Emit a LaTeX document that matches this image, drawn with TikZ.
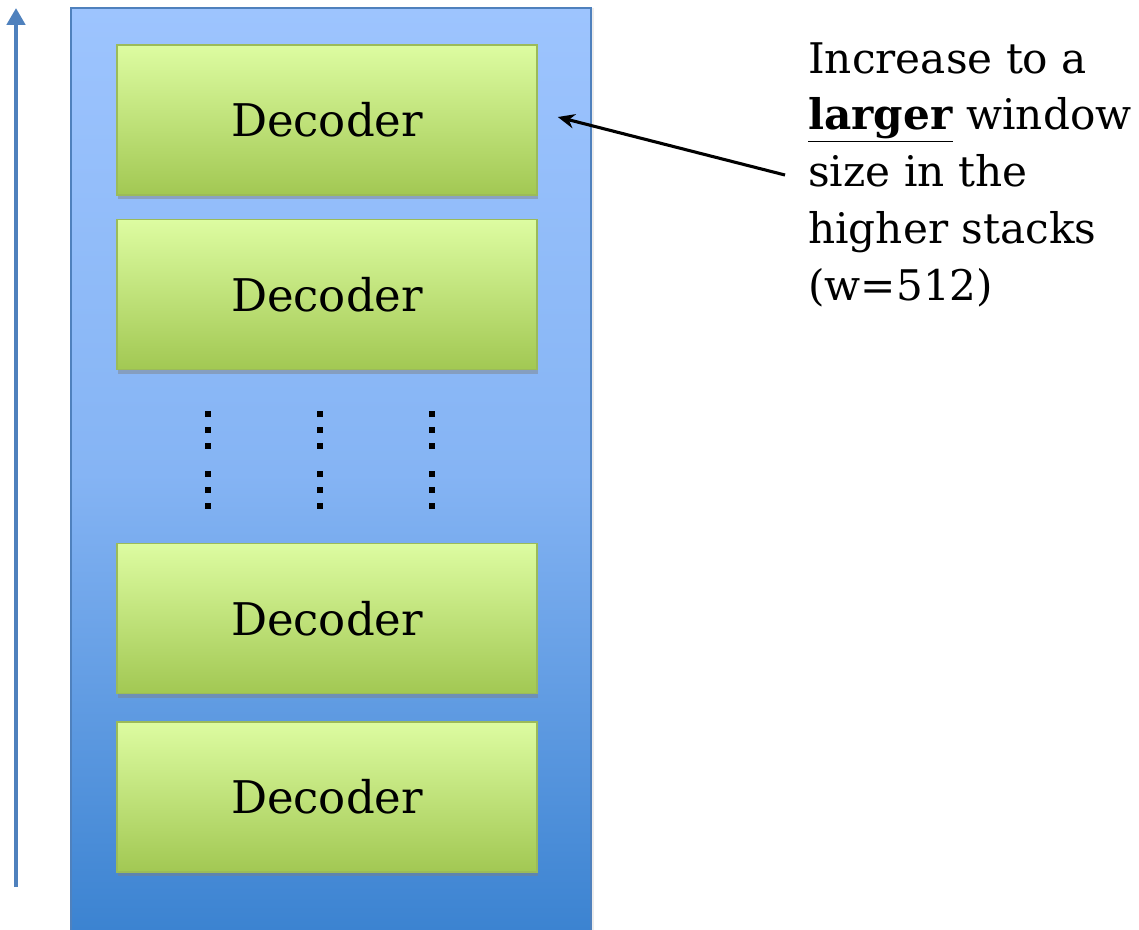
\documentclass[tikz,border=0pt]{standalone}
\usepackage{fontspec}
\setmainfont{DejaVu Serif}
\usetikzlibrary{positioning,shadows,calc,arrows.meta}
\definecolor{stacktop}{HTML}{9DC4FE}
\definecolor{stackmid}{HTML}{85B4F4}
\definecolor{stackbot}{HTML}{3A82D0}
\definecolor{stackedge}{HTML}{4F81BD}
\definecolor{dectop}{HTML}{DDFCA1}
\definecolor{decbot}{HTML}{A2C853}
\definecolor{decedge}{HTML}{9BBB59}
\definecolor{flowblue}{HTML}{4F81BD}

\begin{document}
\begin{tikzpicture}[
    x=0.025cm, y=-0.025cm,
    stackbox/.style={rectangle, draw=stackedge, line width=1.1pt, top color=stacktop,
      bottom color=stackbot, middle color=stackmid, minimum width=13cm,
      minimum height=23.3cm, inner sep=0pt,
      drop shadow={shadow xshift=2pt, shadow yshift=0pt, opacity=0.15}},
    decoder/.style={rectangle, draw=decedge, line width=1.1pt, top color=dectop,
      bottom color=decbot, minimum width=10.5cm, minimum height=3.75cm, inner sep=0pt,
      font=\fontsize{32}{38}\selectfont,
      drop shadow={shadow xshift=1pt, shadow yshift=-3pt, opacity=0.45}},
    vdot/.style={rectangle, fill=black, minimum size=0.15cm, inner sep=0pt},
    note/.style={font=\fontsize{30}{40.4}\selectfont, align=left, inner sep=0pt},
    pointer/.style={draw=black, line width=2.2pt, -{Stealth[length=0.42cm, width=0.36cm]}},
    flow/.style={draw=flowblue, line width=3.5pt, -{Triangle[length=0.42cm, width=0.45cm]}},
  ]
  \clip (0,0) rectangle (1139,929);

  % the stack behind the decoders
  \node[stackbox] (stack) at (331,474) {};

  % decoder layers
  \node[decoder] (dec1) at (327,120) {Decoder};
  \node[decoder, below=0.575cm of dec1] (dec2) {Decoder};
  \node[decoder] (dec4) at (327,797) {Decoder};
  \node[decoder, above=0.675cm of dec4] (dec3) {Decoder};

  % vertical dots between the layers
  \foreach \x in {208,320,432}
    \foreach \y in {414,430,446,474,490,506}
      \node[vdot] at (\x,\y) {};

  % direction of the stack
  \coordinate (flowbot) at (16,887);
  \coordinate (flowtop) at (16,8);
  \draw[flow] (flowbot) -- (flowtop);

  % annotation
  \node[note, anchor=north west] (remark) at (808,42)
    {Increase to a\\ \underline{\textbf{larger}} window\\ size in the\\ higher stacks\\ (w=512)};
  \coordinate (tail) at (785,175);
  \draw[pointer] (tail) -- ($(dec1.east)+(20,-3)$);
\end{tikzpicture}
\end{document}
